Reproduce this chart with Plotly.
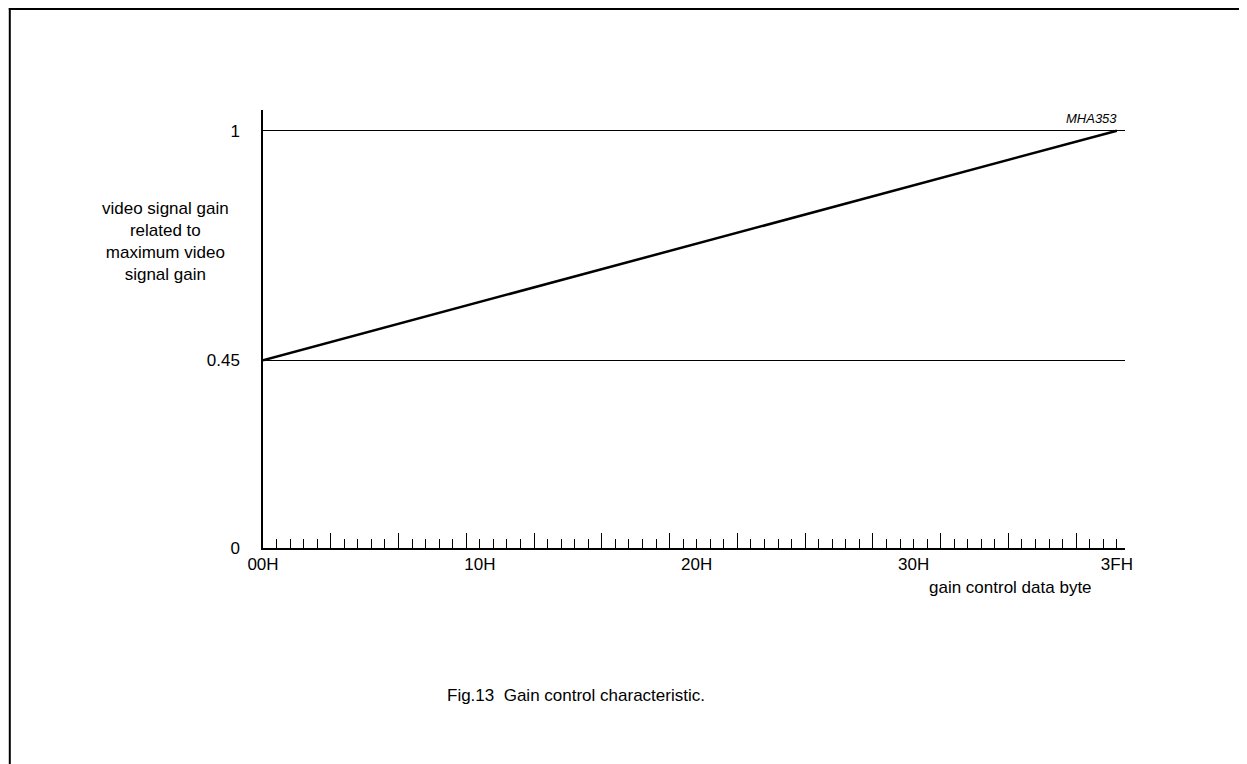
import plotly.graph_objects as go

# ---- data ----
gain_code = [0, 63]            # gain control data byte (00H .. 3FH)
gain_rel = [0.45, 1.0]         # video signal gain relative to maximum
x_tick_vals = [0, 16, 32, 48, 63]
x_tick_text = ["00H", "10H", "20H", "30H", "3FH"]
y_tick_vals = [0, 0.45, 1]
y_tick_text = ["0", "0.45", "1"]
major_tick_vals = [5, 10, 15, 20, 25, 30, 35, 40, 45, 50, 55, 60]

# ---- layout geometry (page pixels; page has an 8px body margin) ----
OFF = 8
W, H = 1247 - OFF, 764 - OFF
AX_L, AX_R, AX_T, AX_B = 262.5, 1125.5, 110, 548   # plot area in page px
L = AX_L - OFF
T = AX_T - OFF
R = W - (AX_R - OFF)
B = H - (AX_B - OFF)
PW, PH = W - L - R, H - T - B
X_MAX = 63.6
Y_MAX = (AX_B - AX_T) / 417.3

def px(x):
    return (x - OFF - L) / PW

def py(y):
    return (H - B - (y - OFF)) / PH

FONT = "Liberation Sans, Arial, sans-serif"

fig = go.Figure()
fig.add_trace(go.Scatter(x=gain_code, y=gain_rel, mode="lines",
                         line=dict(color="black", width=2.5),
                         showlegend=False, hoverinfo="skip"))
fig.add_trace(go.Scatter(x=gain_code, y=gain_rel, mode="lines", xaxis="x2",
                         line=dict(color="rgba(0,0,0,0)", width=0),
                         showlegend=False, hoverinfo="skip"))

fig.update_layout(
    width=W, height=H,
    margin=dict(l=L, r=R, t=T, b=B, pad=0),
    paper_bgcolor="white", plot_bgcolor="white",
    font=dict(family=FONT, size=17, color="black"),
    xaxis=dict(range=[0, X_MAX], showline=True, linecolor="black", linewidth=1.5,
               showgrid=False, zeroline=False,
               tickmode="array", tickvals=major_tick_vals, showticklabels=False,
               ticks="inside", ticklen=15, tickwidth=1, tickcolor="black",
               minor=dict(tickmode="linear", tick0=0, dtick=1, ticks="inside",
                          ticklen=9, tickwidth=1, tickcolor="black", showgrid=False)),
    xaxis2=dict(range=[0, X_MAX], overlaying="x", anchor="y", side="bottom",
                showline=False, showgrid=False, zeroline=False,
                tickmode="array", tickvals=x_tick_vals, ticktext=x_tick_text,
                ticks="", ticklabelstandoff=4,
                tickfont=dict(family=FONT, size=17, color="black")),
    yaxis=dict(range=[0, Y_MAX], showline=True, linecolor="black", linewidth=1.5,
               showgrid=True, gridcolor="black", gridwidth=1, zeroline=False,
               tickmode="array", tickvals=y_tick_vals, ticktext=y_tick_text,
               ticks="", ticklabelstandoff=18,
               tickfont=dict(family=FONT, size=17, color="black")),
)

# frame (top and left edges)
fig.add_shape(type="line", xref="paper", yref="paper",
              x0=px(OFF), y0=py(OFF + 1), x1=px(1300), y1=py(OFF + 1),
              line=dict(color="black", width=2))
fig.add_shape(type="line", xref="paper", yref="paper",
              x0=px(OFF + 1), y0=py(OFF), x1=px(OFF + 1), y1=py(800),
              line=dict(color="black", width=2))

fig.add_annotation(xref="paper", yref="paper", x=px(1011), y=py(587),
                   text="gain control data byte", showarrow=False,
                   xanchor="center", yanchor="middle",
                   font=dict(family=FONT, size=17, color="black"))
fig.add_annotation(xref="paper", yref="paper", x=px(165), y=py(241),
                   text="video signal gain<br>related to<br>maximum video<br>signal gain",
                   showarrow=False, xanchor="center", yanchor="middle", align="center",
                   font=dict(family=FONT, size=17, color="black"))
fig.add_annotation(xref="paper", yref="paper", x=px(1092), y=py(119),
                   text="<i>MHA353</i>", showarrow=False,
                   xanchor="center", yanchor="middle",
                   font=dict(family=FONT, size=13, color="black"))
fig.add_annotation(xref="paper", yref="paper", x=px(576), y=py(695),
                   text="Fig.13  Gain control characteristic.", showarrow=False,
                   xanchor="center", yanchor="middle",
                   font=dict(family=FONT, size=17, color="black"))

fig.write_html("out.html")
